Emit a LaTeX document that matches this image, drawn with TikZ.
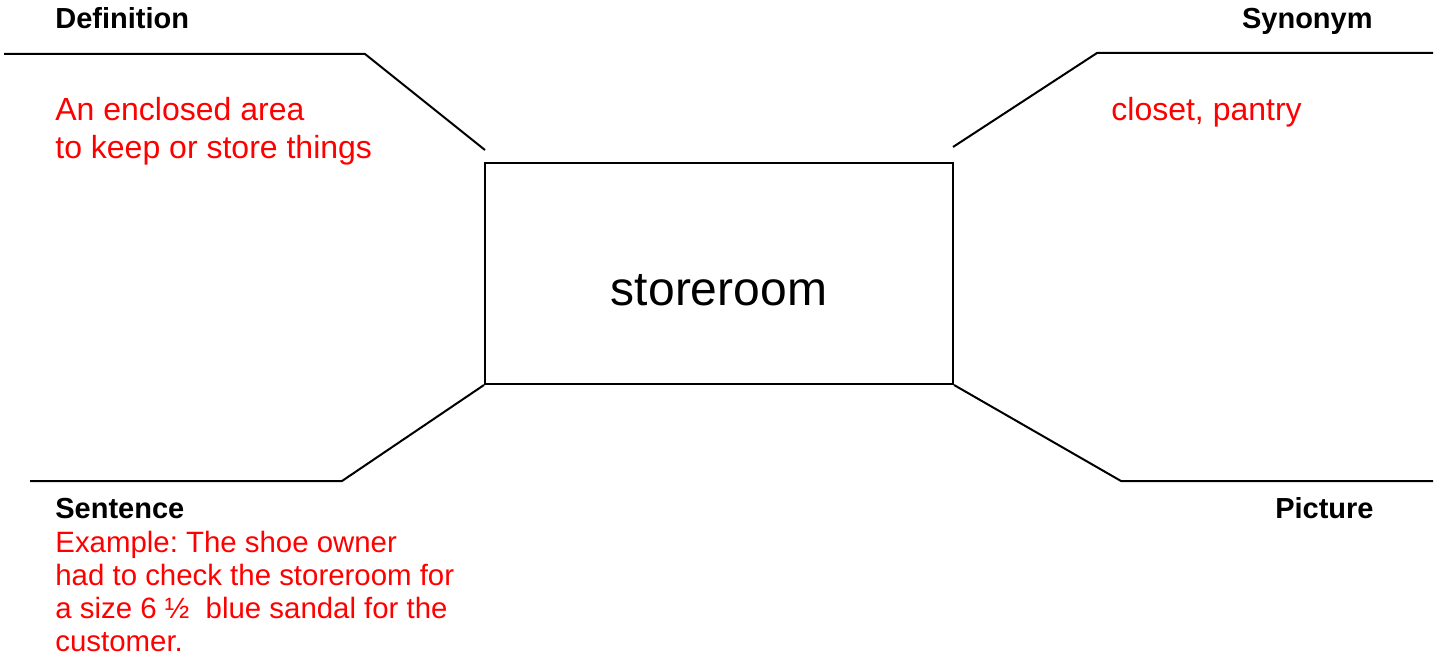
\documentclass[tikz,border=0pt]{standalone}
\usepackage{fontspec}
\setmainfont{Liberation Sans}
\frenchspacing
\definecolor{txtred}{RGB}{255,0,0}
\begin{document}
\begin{tikzpicture}[x=0.5pt,y=-0.5pt,
  lbl/.style={anchor=base west,inner sep=0pt,font=\bfseries\fontsize{14.5pt}{17pt}\selectfont},
  lblr/.style={anchor=base east,inner sep=0pt,font=\bfseries\fontsize{14.5pt}{17pt}\selectfont},
  red16/.style={anchor=base west,inner sep=0pt,text=txtred,font=\fontsize{16pt}{18.5pt}\selectfont},
  red15/.style={anchor=base west,inner sep=0pt,text=txtred,font=\fontsize{14.7pt}{17pt}\selectfont},
  ln/.style={line width=1pt,line join=miter}]
\useasboundingbox (0,0) rectangle (1440,657);
% central box
\node[draw,line width=1pt,minimum width=234pt,minimum height=110.5pt,inner sep=0pt] (box) at (719,273.5) {};
\node[anchor=base,inner sep=0pt,font=\fontsize{24pt}{28pt}\selectfont] (word) at (719,306) {storeroom};
% connector points
\coordinate (tlend) at (485,150);
\coordinate (tlbend) at (365,54);
\coordinate (tlfar) at (4,54);
\coordinate (trend) at (953,147);
\coordinate (trbend) at (1097,53);
\coordinate (trfar) at (1433,53);
\coordinate (blbend) at (342,481);
\coordinate (blfar) at (30,481);
\coordinate (brbend) at (1121,481);
\coordinate (brfar) at (1433,481);
\draw[ln] (tlend) -- (tlbend) -- (tlfar);
\draw[ln] (trend) -- (trbend) -- (trfar);
\draw[ln] (box.south west) -- (blbend) -- (blfar);
\draw[ln] (box.south east) -- (brbend) -- (brfar);
% headers
\node[lbl] (def) at (55,29) {Definition};
\node[lblr] (syn) at (1373,29) {Synonym};
\node[lbl] (sen) at (55,518) {Sentence};
\node[lblr] (pic) at (1374,518) {Picture};
% texts
\node[red16] (d1) at (55,121) {An enclosed area};
\node[red16] (d2) at (55,159) {to keep or store things};
\node[red16] (s1) at (1111,121) {closet, pantry};
\node[red15] (e1) at (55,552) {Example: The shoe owner};
\node[red15] (e2) at (55,585) {had to check the storeroom for};
\node[red15] (e3) at (55,618) {a size 6 ½\ \ blue sandal for the};
\node[red15] (e4) at (55,651) {customer.};
\end{tikzpicture}
\end{document}
